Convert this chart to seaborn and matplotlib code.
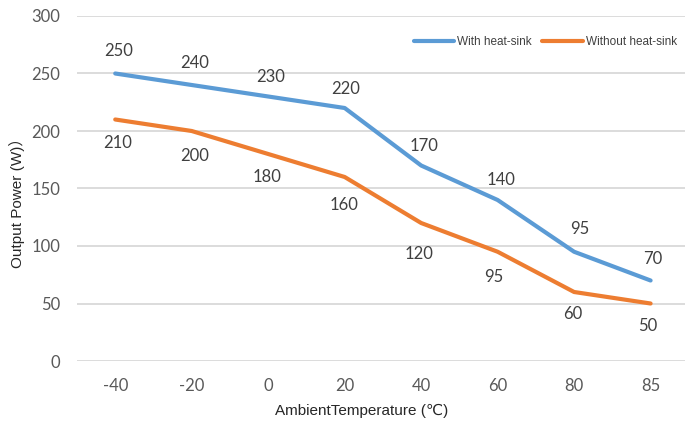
import matplotlib
matplotlib.use("Agg")
import matplotlib.pyplot as plt
import seaborn as sns
import pandas as pd

temps = ["-40", "-20", "0", "20", "40", "60", "80", "85"]
with_sink = [250, 240, 230, 220, 170, 140, 95, 70]
without_sink = [210, 200, 180, 160, 120, 95, 60, 50]
series_names = ["With heat-sink", "Without heat-sink"]
y_ticks = [0, 50, 100, 150, 200, 250, 300]

# label placement styling (pixel offsets from each point, as in the reference)
with_dx = [3, 3, 2, 1, 3, 3, 6, 2]
with_dy = [22.5, 22, 19.5, 19, 19.5, 20, 23, 21.5]
without_dx = [2, 3, -1, -1, -2, -4, -1, -3]
without_dy = [23.5, 25, 23, 28, 31, 25, 22, 22.5]

sns.set_theme(style="white")
plt.rcParams['font.family'] = ['Liberation Sans', 'DejaVu Sans', 'Noto Sans CJK SC']

df = pd.DataFrame({
    "Temp": temps * 2,
    "Power": with_sink + without_sink,
    "Series": [series_names[0]] * len(temps) + [series_names[1]] * len(temps),
})

DPI = 100
fig = plt.figure(figsize=(6.85, 4.28), dpi=DPI)
ax = fig.add_axes([77 / 685, (428 - 361) / 428, 1 - 77 / 685, (361 - 16) / 428])

palette = {series_names[0]: "#5B9BD5", series_names[1]: "#ED7D31"}
sns.lineplot(data=df, x="Temp", y="Power", hue="Series", palette=palette,
             sort=False, linewidth=3, ax=ax, legend=True)

ax.set_ylim(0, 300)
ax.set_xlim(-0.5, 7.45)
ax.set_yticks(y_ticks)
ax.grid(axis="y", color="#D9D9D9", linewidth=1.3)
ax.grid(axis="x", visible=False)
ax.set_axisbelow(True)
for s in ax.spines.values():
    s.set_visible(False)
ax.tick_params(axis="both", length=0, labelsize=12, labelcolor="#595959")
for lab in ax.get_xticklabels() + ax.get_yticklabels():
    lab.set_family(['Lato', 'DejaVu Sans'])
ax.tick_params(axis="x", pad=12)
ax.tick_params(axis="y", pad=12)
ax.set_xlabel("")
ax.set_ylabel("")

px = 72.0 / DPI
num_font = ['Lato', 'DejaVu Sans']
for i, v in enumerate(with_sink):
    ax.annotate(str(v), (i, v), xytext=(with_dx[i] * px, with_dy[i] * px), textcoords="offset points",
                ha="center", va="center", fontsize=12, color="#404040", family=num_font)
for i, v in enumerate(without_sink):
    ax.annotate(str(v), (i, v), xytext=(without_dx[i] * px, -without_dy[i] * px), textcoords="offset points",
                ha="center", va="center", fontsize=12, color="#404040", family=num_font)

leg = ax.legend(loc="upper right", bbox_to_anchor=(0.995, 0.955), ncol=2, frameon=False,
                fontsize=8.5, handlelength=3.4, handletextpad=0.3, columnspacing=0.9,
                borderaxespad=0)
for t in leg.get_texts():
    t.set_color("#404040")
for h in leg.get_lines():
    h.set_linewidth(3)

fig.text(362 / 685, 1 - 411 / 428, "AmbientTemperature (℃)", ha="center", va="center",
         fontsize=11, color="#262626", family=['Liberation Sans', 'DejaVu Sans', 'Noto Sans CJK SC'])
fig.text(17 / 685, 1 - 199 / 428, "Output Power (W)）", ha="center", va="center", rotation=90,
         fontsize=11, color="#262626", family=['Liberation Sans', 'DejaVu Sans', 'Noto Sans CJK SC'])

fig.savefig("out.png", dpi=DPI)
